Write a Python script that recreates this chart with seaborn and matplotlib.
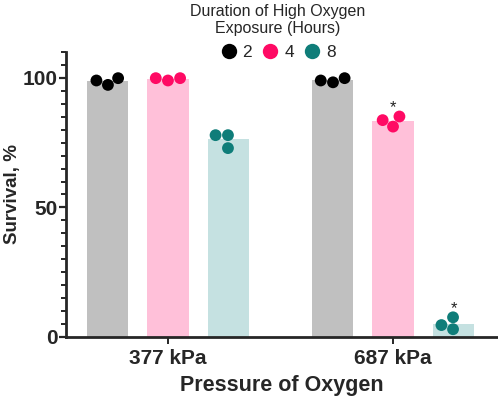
import matplotlib
matplotlib.use("Agg")
import matplotlib.pyplot as plt
from matplotlib.ticker import MultipleLocator
import seaborn as sns
import pandas as pd

# ---- data ----
pressures = ["377 kPa", "687 kPa"]
hours = ["2", "4", "8"]
surv_377_h2 = [97.3, 99.9, 99.0]
surv_377_h4 = [99.0, 99.9, 99.9]
surv_377_h8 = [77.9, 72.9, 77.9]
surv_687_h2 = [98.3, 99.9, 99.0]
surv_687_h4 = [81.2, 85.1, 83.7]
surv_687_h8 = [7.6, 3.0, 4.6]
significant = [("687 kPa", "4"), ("687 kPa", "8")]

bar_colors = ["#c0c0c0", "#ffc0d9", "#c5e1e1"]
dot_colors = ["#000000", "#ff0a64", "#0f7d79"]

groups = {
    ("377 kPa", "2"): surv_377_h2, ("377 kPa", "4"): surv_377_h4, ("377 kPa", "8"): surv_377_h8,
    ("687 kPa", "2"): surv_687_h2, ("687 kPa", "4"): surv_687_h4, ("687 kPa", "8"): surv_687_h8,
}
rows = []
for (p, h), vals in groups.items():
    for v in vals:
        rows.append({"Pressure": p, "Hours": h, "Survival": v})
df = pd.DataFrame(rows)

sns.set_style("ticks")
plt.rcParams["font.family"] = ["Liberation Sans", "DejaVu Sans"]

fig = plt.figure(figsize=(4.98, 3.99), dpi=100)
ax = fig.add_axes([0.1325, 0.1554, 0.8655, 0.7143])

sns.barplot(data=df, x="Pressure", y="Survival", hue="Hours", order=pressures,
            hue_order=hours, palette=bar_colors, errorbar=None, width=0.81,
            gap=0.32, legend=False, ax=ax, saturation=1, linewidth=0)
sns.swarmplot(data=df, x="Pressure", y="Survival", hue="Hours", order=pressures,
              hue_order=hours, palette=dot_colors, dodge=True, size=8.5,
              linewidth=0, ax=ax, legend=True)

# significance asterisks
nh = len(hours)
step = 0.81 / nh
for (p, h) in significant:
    xc = pressures.index(p) - 0.81 / 2 + step * (hours.index(h) + 0.5)
    ymax = max(groups[(p, h)])
    ax.text(xc, ymax + 0.6, "*", ha="center", va="bottom", fontsize=12, color="#222222")

ax.set_xlim(-0.453, 1.462)
ax.set_ylim(0, 110)
ax.yaxis.set_major_locator(MultipleLocator(50))
ax.yaxis.set_minor_locator(MultipleLocator(5))
ax.tick_params(axis="y", which="major", length=5, width=1.6, labelsize=15, pad=1)
ax.tick_params(axis="y", which="minor", length=3.5, width=1.4)
ax.tick_params(axis="x", which="major", length=5, width=1.4, labelsize=15, pad=4)
for lab in ax.get_yticklabels() + ax.get_xticklabels():
    lab.set_fontweight("bold")
for s in ["left", "bottom"]:
    ax.spines[s].set_linewidth(2)
sns.despine(ax=ax)

ax.set_xlabel("Pressure of Oxygen", fontsize=15.5, fontweight="bold", labelpad=5)
ax.set_ylabel("Survival, %", fontsize=13.5, fontweight="bold", labelpad=1)

handles, labels = ax.get_legend_handles_labels()
leg = ax.legend(handles, labels, title="Duration of High Oxygen\nExposure (Hours)",
                ncol=3, frameon=False, loc="center", bbox_to_anchor=(0.557, 0.92),
                bbox_transform=fig.transFigure, fontsize=12.5, title_fontsize=11.5,
                handletextpad=0.25, columnspacing=0.5, handlelength=1.1,
                markerscale=1.3, alignment="center")
leg.get_title().set_multialignment("center")

fig.savefig("out.png", dpi=100)
